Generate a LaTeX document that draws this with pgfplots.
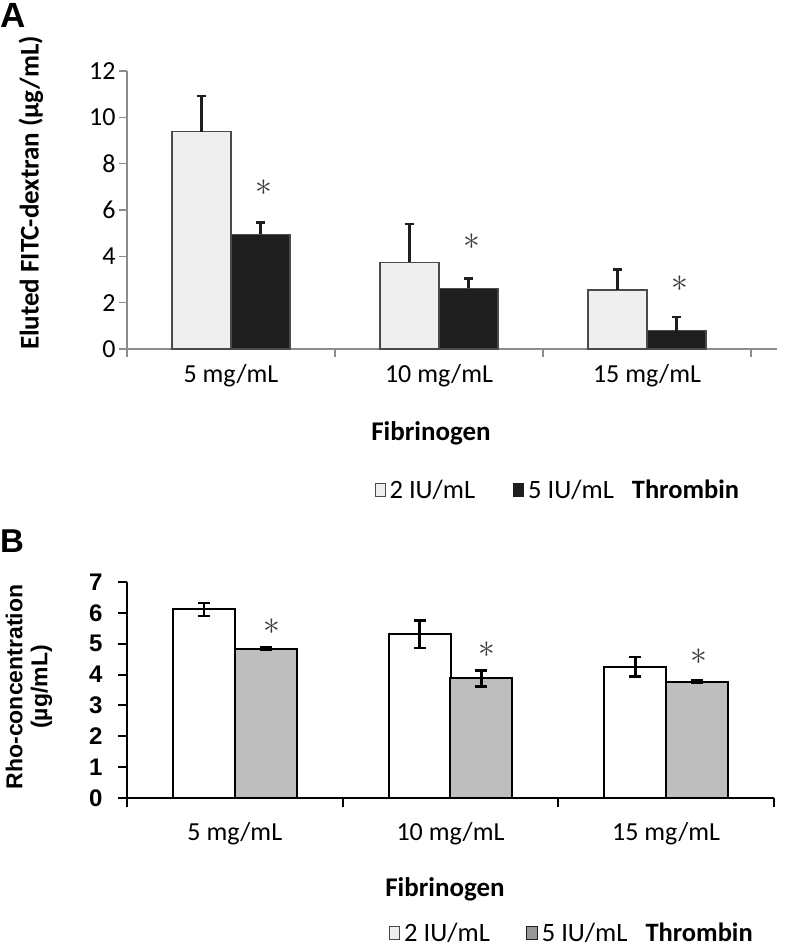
\documentclass[border=0pt]{standalone}
\usepackage{fontspec}
\setmainfont{Carlito}
\newfontfamily\arial{Liberation Sans}
\usepackage{graphicx}
\usepackage{pgfplots}
\pgfplotsset{compat=1.18}
\definecolor{lightA}{HTML}{EFEFEF}
\definecolor{darkA}{HTML}{1E1E1E}
\definecolor{borderA}{HTML}{4A4A4A}
\definecolor{axisA}{HTML}{8C8C8C}
\definecolor{grayB}{HTML}{BEBEBE}
\definecolor{starA}{HTML}{3C3C3C}
\newcommand{\sig}{\fontsize{24}{24}\selectfont\scalebox{1.35}{$\ast$}}
\begin{document}
\begin{tikzpicture}
\useasboundingbox (0,0) rectangle (786pt,-947pt);
% ---------------- Panel A ----------------
\node[anchor=north west, inner sep=0pt, font=\arial\bfseries\fontsize{35}{40}\selectfont] at (0pt,-3pt) {A};
\node[rotate=90, inner sep=0pt, font=\bfseries\fontsize{27}{30}\selectfont] at (31pt,-193pt) {Eluted FITC-dextran (µg/mL)};
\node[inner sep=0pt, font=\bfseries\fontsize{27}{30}\selectfont] at (431pt,-433pt) {Fibrinogen};
\begin{axis}[
  at={(127pt,-349pt)}, anchor=south west,
  scale only axis, width=650pt, height=278pt,
  xmin=-0.5, xmax=2.625, ymin=0, ymax=12,
  axis x line*=bottom, axis y line*=left,
  axis line style={draw=axisA, line width=1.5pt},
  tick style={draw=axisA, line width=1.5pt},
  tick align=outside, major tick length=8pt,
  xtick={-0.5,0.5,1.5,2.5}, xticklabels={,,,},
  extra x ticks={0,1,2},
  extra x tick labels={5 mg/mL,10 mg/mL,15 mg/mL},
  extra x tick style={major tick length=0pt, xticklabel style={yshift=-12pt}},
  ytick={0,2,4,6,8,10,12},
  ticklabel style={font=\fontsize{26}{30}\selectfont},
  /pgf/number format/assume math mode=true,
  clip=false,
  legend style={at={(axis description cs:0.3806,-0.507)}, anchor=west, draw=none, fill=none,
    inner sep=0pt, legend columns=-1, font=\fontsize{26.5}{30}\selectfont,
    /tikz/every odd column/.append style={column sep=2pt},
    /tikz/every even column/.append style={column sep=36pt}},
]
\addplot[ybar, bar width=0.284, bar shift=0, fill=lightA, draw=borderA, line width=1.5pt,
  legend image code/.code={\draw[fill=lightA, draw=borderA, line width=1pt] (0pt,-6.5pt) rectangle (10pt,6.5pt);},
  error bars/.cd, y dir=plus, y explicit,
  error bar style={line width=2.5pt, draw=darkA},
  error mark options={rotate=90, line width=2.5pt, mark size=4.5pt, draw=darkA}]
  coordinates {(-0.142,9.38) +- (0,1.55) (0.858,3.74) +- (0,1.65) (1.858,2.55) +- (0,0.89)};
\addlegendentry{2 IU/mL}
\addplot[ybar, bar width=0.284, bar shift=0, fill=darkA, draw=borderA, line width=1.5pt,
  legend image code/.code={\draw[fill=darkA, draw=darkA, line width=1pt] (0pt,-6.5pt) rectangle (10pt,6.5pt);},
  error bars/.cd, y dir=plus, y explicit,
  error bar style={line width=2.5pt, draw=darkA},
  error mark options={rotate=90, line width=2.5pt, mark size=4.5pt, draw=darkA}]
  coordinates {(0.142,4.95) +- (0,0.52) (1.142,2.62) +- (0,0.43) (2.142,0.79) +- (0,0.60)};
\addlegendentry{5 IU/mL\hspace{18pt}\textbf{Thrombin}}
\node[text=starA, inner sep=0pt] at (axis cs:0.16,6.95) {\sig};
\node[text=starA, inner sep=0pt] at (axis cs:1.16,4.63) {\sig};
\node[text=starA, inner sep=0pt] at (axis cs:2.16,2.84) {\sig};
\end{axis}
% ---------------- Panel B ----------------
\node[anchor=north west, inner sep=0pt, font=\arial\bfseries\fontsize{33}{38}\selectfont] at (0pt,-530pt) {B};
\node[rotate=90, inner sep=0pt, align=center, font=\arial\bfseries\fontsize{23}{25}\selectfont] at (29pt,-687pt) {Rho-concentration\\(µg/mL)};
\node[inner sep=0pt, font=\bfseries\fontsize{27}{30}\selectfont] at (445pt,-889pt) {Fibrinogen};
\begin{axis}[
  at={(127pt,-798pt)}, anchor=south west,
  scale only axis, width=647pt, height=216pt,
  xmin=-0.5, xmax=2.5, ymin=0, ymax=7,
  axis x line*=bottom, axis y line*=left,
  axis line style={draw=black, line width=2pt},
  tick style={draw=black, line width=2pt},
  tick align=outside, major tick length=9pt,
  xtick={-0.5,0.5,1.5,2.5}, xticklabels={,,,},
  extra x ticks={0,1,2},
  extra x tick labels={5 mg/mL,10 mg/mL,15 mg/mL},
  extra x tick style={major tick length=0pt, xticklabel style={yshift=-21pt, font=\fontsize{26}{30}\selectfont}},
  ytick={0,1,2,3,4,5,6,7},
  yticklabel style={font=\arial\bfseries\fontsize{24}{28}\selectfont, xshift=-12pt},
  /pgf/number format/assume math mode=true,
  clip=false,
  legend style={at={(axis description cs:0.405,-0.625)}, anchor=west, draw=none, fill=none,
    inner sep=0pt, legend columns=-1, font=\fontsize{26.5}{30}\selectfont,
    /tikz/every odd column/.append style={column sep=2pt},
    /tikz/every even column/.append style={column sep=34pt}},
]
\addplot[ybar, bar width=0.287, bar shift=0, fill=white, draw=black, line width=2pt,
  legend image code/.code={\draw[fill=lightA, draw=borderA, line width=1pt] (0pt,-6.5pt) rectangle (10pt,6.5pt);},
  error bars/.cd, y dir=both, y explicit,
  error bar style={line width=2.5pt, draw=black},
  error mark options={rotate=90, line width=2.5pt, mark size=6pt, draw=black}]
  coordinates {(-0.143,6.11) +- (0,0.21) (0.857,5.31) +- (0,0.45) (1.857,4.25) +- (0,0.32)};
\addlegendentry{2 IU/mL}
\addplot[ybar, bar width=0.287, bar shift=0, fill=grayB, draw=black, line width=2pt,
  legend image code/.code={\draw[fill=grayB!80!black, draw=darkA, line width=1pt] (0pt,-6.5pt) rectangle (11pt,6.5pt);},
  error bars/.cd, y dir=both, y explicit,
  error bar style={line width=2.5pt, draw=black},
  error mark options={rotate=90, line width=2.5pt, mark size=6pt, draw=black}]
  coordinates {(0.143,4.84) +- (0,0.03) (1.143,3.88) +- (0,0.26) (2.143,3.77) +- (0,0.04)};
\addlegendentry{5 IU/mL\hspace{18pt}\textbf{Thrombin}}
\node[text=starA, inner sep=0pt] at (axis cs:0.17,5.54) {\sig};
\node[text=starA, inner sep=0pt] at (axis cs:1.17,4.80) {\sig};
\node[text=starA, inner sep=0pt] at (axis cs:2.15,4.58) {\sig};
\end{axis}
\end{tikzpicture}
\end{document}
